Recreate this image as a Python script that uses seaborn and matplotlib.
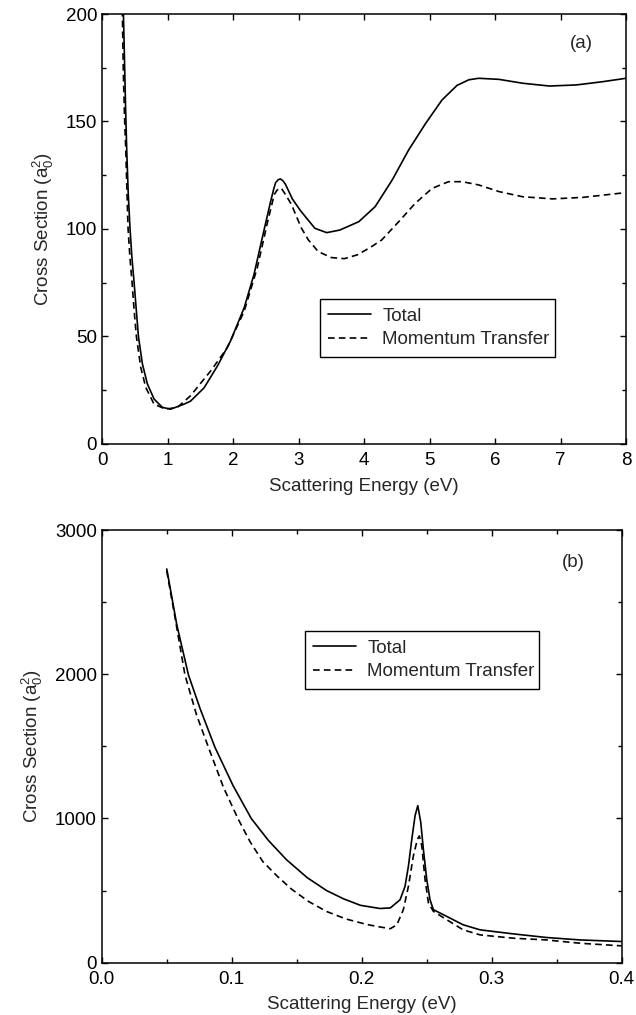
import numpy as np
import pandas as pd
import seaborn as sns
import matplotlib
matplotlib.use("Agg")
import matplotlib.pyplot as plt
from matplotlib.ticker import MultipleLocator, FormatStrFormatter

# panel (a): 0-8 eV
energy_a_total = [0.32, 0.326, 0.345, 0.36, 0.377, 0.40, 0.427, 0.455, 0.489, 0.555,
                  0.616, 0.692, 0.794, 0.921, 1.048, 1.25, 1.35, 1.557, 1.76, 1.96,
                  2.17, 2.32, 2.47, 2.575, 2.62, 2.65, 2.69, 2.72, 2.76, 2.80,
                  2.905, 3.03, 3.25, 3.43, 3.63, 3.92, 4.17, 4.43, 4.68, 4.94,
                  5.19, 5.42, 5.6, 5.75, 6.06, 6.42, 6.83, 7.24, 7.64, 8.0]
total_a = [210, 200, 175, 155, 136, 116, 100, 87, 75, 50,
           37.2, 27.9, 20.9, 17, 16.2, 18.5, 19.9, 26.1, 36.2, 47.8,
           63.4, 78.9, 99.1, 113, 118.5, 121.6, 122.9, 123.3, 122.5, 120.8,
           114, 108.5, 100.3, 98.3, 99.5, 103.4, 110.4, 122.8, 136.7, 149.1,
           160, 166.8, 169.4, 170.1, 169.6, 167.8, 166.5, 167, 168.5, 170.1]
energy_a_mom = [0.30, 0.31, 0.325, 0.345, 0.362, 0.38, 0.397, 0.425, 0.458, 0.49,
                0.524, 0.59, 0.667, 0.794, 0.97, 1.15, 1.35, 1.557, 1.66, 1.91,
                2.17, 2.37, 2.53, 2.63, 2.67, 2.71, 2.74, 2.78, 2.89, 3.04,
                3.15, 3.3, 3.5, 3.7, 3.9, 4.1, 4.27, 4.53, 4.78, 5.04,
                5.29, 5.5, 5.75, 6.06, 6.42, 6.88, 7.34, 7.99]
momentum_a = [215, 200, 172, 150, 137, 117, 100, 87, 75, 62,
              50, 35.7, 26.3, 18.5, 16.2, 17, 22.4, 30.2, 34, 44.7,
              61.8, 82, 103.7, 116.1, 118, 119, 118.8, 117, 111.5, 100.6,
              94.9, 89.5, 86.7, 86.2, 88, 91.5, 94.9, 103.4, 111.9, 118.9,
              122, 122, 120.5, 117.4, 115, 114, 114.7, 116.9]

# panel (b): 0-0.4 eV
energy_b_total = [0.05, 0.0577, 0.0667, 0.0756, 0.087, 0.101, 0.115, 0.128, 0.142, 0.158,
                  0.173, 0.186, 0.199, 0.214, 0.222, 0.2295, 0.2333, 0.2359, 0.2385, 0.241,
                  0.2431, 0.2454, 0.2474, 0.25, 0.2525, 0.2551, 0.2654, 0.278, 0.291,
                  0.3166, 0.342, 0.368, 0.4]
total_b = [2730, 2344, 1995, 1763, 1495, 1228, 1000, 850, 715, 590,
           500, 443, 398, 376, 380, 437, 530, 670, 856, 1019,
           1089, 973, 786, 577, 437, 368, 321, 263, 228,
           200, 175, 158, 147]
energy_b_mom = [0.05, 0.0564, 0.064, 0.073, 0.082, 0.0936, 0.105, 0.114, 0.124, 0.135,
                0.146, 0.159, 0.173, 0.188, 0.204, 0.214, 0.222, 0.227, 0.232, 0.2359,
                0.2397, 0.2428, 0.2443, 0.2462, 0.2487, 0.2513, 0.2551, 0.2654, 0.278,
                0.291, 0.3166, 0.342, 0.368, 0.4]
momentum_b = [2716, 2391, 1995, 1716, 1495, 1216, 995, 840, 700, 600,
              510, 425, 355, 303, 265, 248, 236, 263, 368, 530,
              740, 856, 879, 809, 577, 414, 356, 298, 228,
              193, 170, 158, 135, 117]

sns.set_style("ticks")
plt.rcParams["font.family"] = ["Liberation Sans", "DejaVu Sans"]
plt.rcParams["mathtext.fontset"] = "custom"
plt.rcParams["mathtext.rm"] = "Liberation Sans"
plt.rcParams["mathtext.it"] = "Liberation Sans"

FS = 13.5
fig = plt.figure(figsize=(6.36, 10.15), dpi=100)
ax1 = fig.add_axes([0.1605, 0.5626, 0.8238, 0.4236])
ax2 = fig.add_axes([0.160, 0.0515, 0.8176, 0.4263])

ylabel = r"Cross Section (a$_\mathregular{0}^\mathregular{2}$)"
dash = (0, (4, 2.5))


def style_axis(ax):
    for s in ax.spines.values():
        s.set_linewidth(1.1)
        s.set_color("black")
    ax.tick_params(which="both", direction="in", top=True, right=True,
                   width=1.0, color="black", labelsize=FS, labelcolor="black")
    ax.tick_params(which="major", length=4)
    ax.tick_params(which="minor", length=3)
    ax.tick_params(axis="x", pad=6)
    ax.set_xlabel("Scattering Energy (eV)", fontsize=FS, labelpad=6)
    ax.set_ylabel(ylabel, fontsize=FS, labelpad=7)


def add_legend(ax, anchor):
    leg = ax.legend(loc="lower left", bbox_to_anchor=anchor, mode="expand",
                    fancybox=False, frameon=True, fontsize=FS, handlelength=2.3,
                    handletextpad=0.6, borderpad=0.45, labelspacing=0.35,
                    borderaxespad=0)
    leg.get_frame().set_edgecolor("black")
    leg.get_frame().set_linewidth(1.0)
    leg.get_frame().set_alpha(1)


sns.lineplot(x=energy_a_total, y=total_a, ax=ax1, color="black", lw=1.2, label="Total")
sns.lineplot(x=energy_a_mom, y=momentum_a, ax=ax1, color="black", lw=1.2,
             linestyle=dash, label="Momentum Transfer")
ax1.set_xlim(0, 8)
ax1.set_ylim(0, 200)
ax1.xaxis.set_major_locator(MultipleLocator(1))
ax1.yaxis.set_major_locator(MultipleLocator(50))
ax1.yaxis.set_minor_locator(MultipleLocator(25))
style_axis(ax1)
ax1.text(0.915, 0.932, "(a)", transform=ax1.transAxes, ha="center", va="center", fontsize=FS)
add_legend(ax1, (0.415, 0.203, 0.449, 0.133))

sns.lineplot(x=energy_b_total, y=total_b, ax=ax2, color="black", lw=1.2, label="Total")
sns.lineplot(x=energy_b_mom, y=momentum_b, ax=ax2, color="black", lw=1.2,
             linestyle=dash, label="Momentum Transfer")
ax2.set_xlim(0, 0.4)
ax2.set_ylim(0, 3000)
ax2.xaxis.set_major_locator(MultipleLocator(0.1))
ax2.xaxis.set_minor_locator(MultipleLocator(0.05))
ax2.xaxis.set_major_formatter(FormatStrFormatter("%.1f"))
ax2.yaxis.set_major_locator(MultipleLocator(1000))
ax2.yaxis.set_minor_locator(MultipleLocator(500))
style_axis(ax2)
ax2.text(0.907, 0.926, "(b)", transform=ax2.transAxes, ha="center", va="center", fontsize=FS)
add_legend(ax2, (0.39, 0.633, 0.45, 0.133))

fig.savefig("out.png", dpi=100, facecolor="white")
